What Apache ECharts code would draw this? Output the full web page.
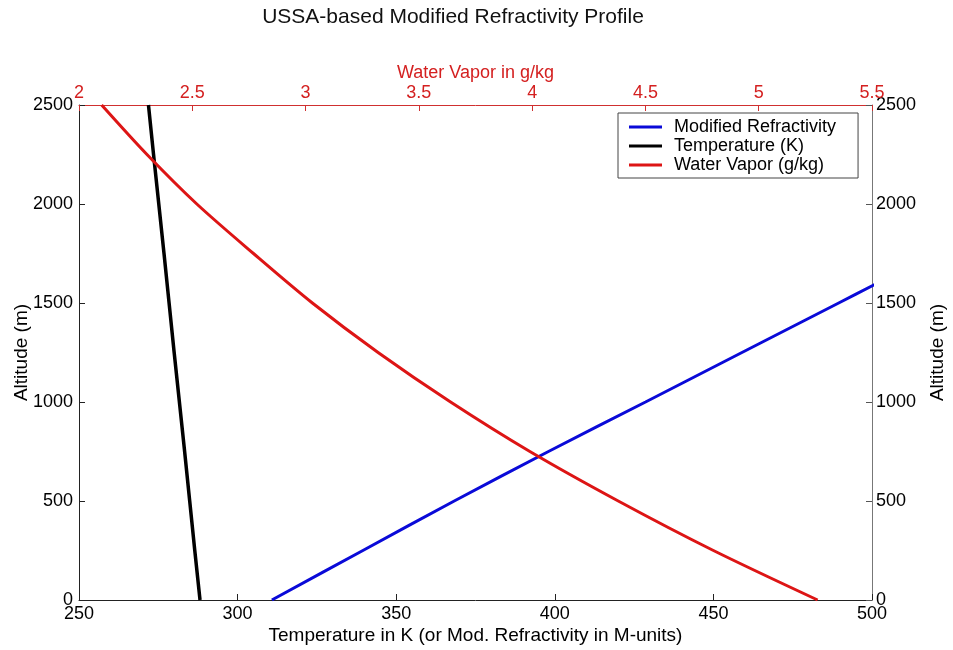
<!DOCTYPE html>
<html>
<head>
<meta charset="utf-8">
<script src="https://cdn.jsdelivr.net/npm/echarts@6/dist/echarts.min.js"></script>
<style>
  html, body { margin: 0; padding: 0; background: #fff; }
  #chart { width: 953px; height: 650px; }
</style>
</head>
<body>
<div id="chart"></div>
<script>
// ---- Data ----
const altitudes = [0, 250, 500, 750, 1000, 1250, 1500, 1750, 2000, 2250, 2500];
const temperatureK = [288.15, 286.5, 284.9, 283.3, 281.65, 280.0, 278.4, 276.8, 275.15, 273.5, 271.9];
const waterVapor = [5.26, 4.80, 4.38, 3.99, 3.64, 3.32, 3.03, 2.77, 2.52, 2.30, 2.10];
const refrAltitudes = [0, 250, 500, 750, 1000, 1250, 1500, 1600];
const modRefractivity = [310.8, 339.5, 368.3, 398.0, 428.6, 459.0, 489.5, 501.7];
const seriesNames = ['Modified Refractivity', 'Temperature (K)', 'Water Vapor (g/kg)'];
const seriesColors = ['#0a0ad8', '#000000', '#dd1515'];

const FONT = 'Liberation Sans, Arial, sans-serif';
const chart = echarts.init(document.getElementById('chart'));

const pairs = (xs, ys) => xs.map((x, i) => [x, ys[i]]);
const plain = v => String(v);

chart.setOption({
  animation: false,
  backgroundColor: '#fff',
  textStyle: { fontFamily: FONT },
  graphic: [{
    type: 'text',
    x: 453, y: 7,
    style: {
      text: 'USSA-based Modified Refractivity Profile',
      fontFamily: FONT, fontSize: 21, fill: '#111',
      textAlign: 'center', textVerticalAlign: 'top'
    }
  }],
  grid: { left: 79, right: 81, top: 105, bottom: 50, outerBoundsMode: 'none', containLabel: false },
  legend: {
    data: seriesNames.map((n, i) => ({ name: n, icon: 'rect', itemStyle: { color: seriesColors[i] } })),
    orient: 'vertical',
    left: 618, top: 113,
    padding: [5, 22, 4, 11],
    itemGap: 1,
    itemWidth: 33, itemHeight: 3,
    borderColor: '#444', borderWidth: 1,
    backgroundColor: '#fff',
    textStyle: { fontFamily: FONT, fontSize: 18, color: '#000', padding: [0, 0, 0, 7] }
  },
  xAxis: [
    {
      type: 'value', position: 'bottom',
      min: 250, max: 500, interval: 50,
      name: 'Temperature in K (or Mod. Refractivity in M-units)',
      nameLocation: 'middle', nameGap: 26, nameMoveOverlap: false,
      nameTextStyle: { fontFamily: FONT, fontSize: 19, color: '#000' },
      axisLine: { onZero: false, lineStyle: { color: '#222', width: 1 } },
      axisTick: { inside: true, length: 6, lineStyle: { color: '#222' } },
      axisLabel: { fontFamily: FONT, fontSize: 18, color: '#000', margin: 5, formatter: plain },
      splitLine: { show: false }
    },
    {
      type: 'value', position: 'top',
      min: 2, max: 5.5, interval: 0.5,
      name: 'Water Vapor in g/kg',
      nameLocation: 'middle', nameGap: 23, nameMoveOverlap: false,
      nameTextStyle: { fontFamily: FONT, fontSize: 18, color: '#d42020' },
      axisLine: { onZero: false, lineStyle: { color: '#d03030', width: 1 } },
      axisTick: { inside: true, length: 6, lineStyle: { color: '#d03030' } },
      axisLabel: { fontFamily: FONT, fontSize: 18, color: '#d42020', margin: 3, formatter: plain },
      splitLine: { show: false }
    }
  ],
  yAxis: [
    {
      type: 'value', position: 'left',
      min: 0, max: 2500, interval: 500,
      name: 'Altitude (m)',
      nameLocation: 'middle', nameRotate: 90, nameGap: 48, nameMoveOverlap: false,
      nameTextStyle: { fontFamily: FONT, fontSize: 19, color: '#000' },
      axisLine: { onZero: false, lineStyle: { color: '#222', width: 1 } },
      axisTick: { inside: true, length: 6, lineStyle: { color: '#222' } },
      axisLabel: { fontFamily: FONT, fontSize: 18, color: '#000', margin: 6, formatter: plain },
      splitLine: { show: false }
    },
    {
      type: 'value', position: 'right',
      min: 0, max: 2500, interval: 500,
      name: 'Altitude (m)',
      nameLocation: 'middle', nameRotate: 90, nameGap: 56, nameMoveOverlap: false,
      nameTextStyle: { fontFamily: FONT, fontSize: 19, color: '#000' },
      axisLine: { onZero: false, lineStyle: { color: '#777', width: 1 } },
      axisTick: { inside: true, length: 6, lineStyle: { color: '#555' } },
      axisLabel: { fontFamily: FONT, fontSize: 18, color: '#000', margin: 4, formatter: plain },
      splitLine: { show: false }
    }
  ],
  series: [
    {
      name: seriesNames[0], type: 'line',
      xAxisIndex: 0, yAxisIndex: 0,
      data: pairs(modRefractivity, refrAltitudes),
      symbol: 'none', smooth: 0.3, clip: true,
      lineStyle: { color: seriesColors[0], width: 3 },
      itemStyle: { color: seriesColors[0] }
    },
    {
      name: seriesNames[1], type: 'line',
      xAxisIndex: 0, yAxisIndex: 0,
      data: pairs(temperatureK, altitudes),
      symbol: 'none', clip: true,
      lineStyle: { color: seriesColors[1], width: 3.5 },
      itemStyle: { color: seriesColors[1] }
    },
    {
      name: seriesNames[2], type: 'line',
      xAxisIndex: 1, yAxisIndex: 0,
      data: pairs(waterVapor, altitudes),
      symbol: 'none', smooth: 0.3, clip: true,
      lineStyle: { color: seriesColors[2], width: 3 },
      itemStyle: { color: seriesColors[2] }
    }
  ]
});
</script>
</body>
</html>
